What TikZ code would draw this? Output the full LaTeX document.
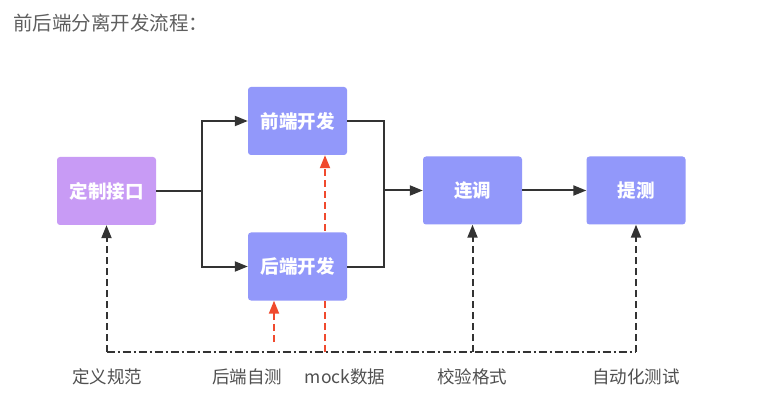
\documentclass[tikz,border=0pt]{standalone}
\usepackage{fontspec}
\setmainfont{Noto Sans CJK SC}
\usetikzlibrary{arrows.meta,backgrounds}
\definecolor{boxblue}{RGB}{146,152,250}
\definecolor{boxpurple}{RGB}{200,155,245}
\definecolor{linedark}{RGB}{51,51,51}
\definecolor{dashred}{RGB}{240,74,46}
\definecolor{labelgray}{RGB}{80,80,80}
\definecolor{titlegray}{RGB}{95,95,95}
\begin{document}
\begin{tikzpicture}[x=1pt,y=-1pt,
  procbox/.style={rounded corners=3pt,minimum width=99pt,minimum height=68pt,inner sep=0pt,
    text=white,font=\fontsize{18.5pt}{18.5pt}\selectfont\bfseries},
  bluebox/.style={procbox,fill=boxblue},
  purplebox/.style={procbox,fill=boxpurple},
  flowline/.style={draw=linedark,line width=2pt},
  flowarrow/.style={flowline,-{Triangle[length=13pt,width=10pt]}},
  grayarrow/.style={draw=linedark,line width=2pt,dash pattern=on 7pt off 4pt,-{Triangle[length=13pt,width=10pt]}},
  redarrow/.style={draw=dashred,line width=2pt,dash pattern=on 7pt off 4pt,-{Triangle[length=13pt,width=10pt]}},
  bottomline/.style={draw=linedark,line width=2pt,dash pattern=on 8pt off 3pt on 2pt off 3pt},
  lbl/.style={text=labelgray,font=\fontsize{17.5pt}{17.5pt}\selectfont,inner sep=0pt}]
\useasboundingbox (0,0) rectangle (762,403);
\begin{scope}[on background layer]
\fill[white] (0,0) rectangle (762,403);
\end{scope}

\node[text=titlegray,font=\fontsize{19.5pt}{19.5pt}\selectfont,anchor=west,inner sep=0pt] (title) at (13,23) {前后端分离开发流程：};

\node[purplebox] (ding) at (106.5,191) {定制接口};
\node[bluebox] (qian) at (297.5,121) {前端开发};
\node[bluebox] (hou) at (297.5,266.5) {后端开发};
\node[bluebox] (lian) at (472.5,190.5) {连调};
\node[bluebox] (ti) at (636,190.5) {提测};

\coordinate (split) at (202,191);
\coordinate (merge) at (384,190.5);
\draw[flowline] (ding.east) -- (split);
\draw[flowarrow] (split) |- (qian.west);
\draw[flowarrow] (split) |- (hou.west);
\draw[flowline] (qian.east) -| (merge);
\draw[flowline] (hou.east) -| (merge);
\draw[flowarrow] (merge) -- (lian.west);
\draw[flowarrow] (lian.east) -- (ti.west);

\coordinate (b1) at (106.5,352);
\coordinate (bm) at (325,352);
\coordinate (b4) at (472.5,352);
\coordinate (b5) at (636,352);
\coordinate (hs) at (274,342);

\begin{scope}[on background layer]
\draw[redarrow] (bm) -- (bm |- qian.south);
\end{scope}
\draw[bottomline] (b1) -- (b5);
\draw[grayarrow] (b1) -- (ding.south);
\draw[grayarrow] (b4) -- (lian.south);
\draw[grayarrow] (b5) -- (ti.south);
\draw[redarrow] (hs) -- (hs |- hou.south);

\node[lbl] (l1) at (107,377) {定义规范};
\node[lbl] (l2) at (247,377) {后端自测};
\node[lbl] (l3) at (345,377) {mock数据};
\node[lbl] (l4) at (472,377) {校验格式};
\node[lbl] (l5) at (636,377) {自动化测试};
\end{tikzpicture}
\end{document}
